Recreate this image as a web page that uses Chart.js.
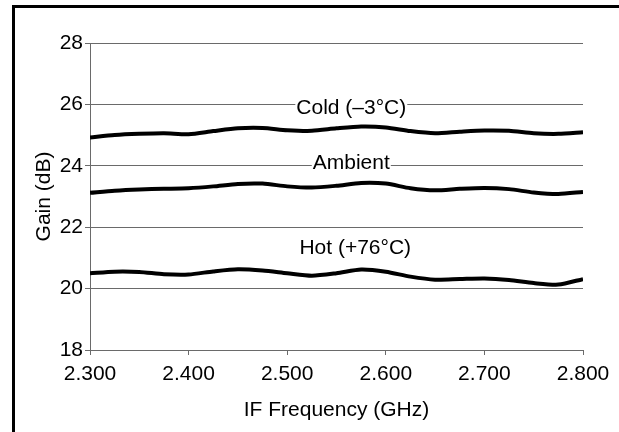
<!DOCTYPE html>
<html>
<head>
<meta charset="utf-8">
<script src="https://cdn.jsdelivr.net/npm/chart.js@4.4.1/dist/chart.umd.min.js"></script>
<style>
html,body{margin:0;padding:0;background:#fff;}
#wrap{position:relative;width:619px;height:432px;}
</style>
</head>
<body>
<div id="wrap"><canvas id="c" width="619" height="432"></canvas></div>
<script>
const frequencies = [2.300,2.325,2.350,2.375,2.400,2.425,2.450,2.475,2.500,2.525,2.550,2.575,2.600,2.625,2.650,2.675,2.700,2.725,2.750,2.775,2.800];
const coldGain = [24.92,25.00,25.04,25.06,25.03,25.13,25.22,25.23,25.16,25.14,25.22,25.28,25.25,25.13,25.06,25.11,25.15,25.14,25.06,25.04,25.09];
const ambientGain = [23.12,23.19,23.23,23.25,23.27,23.33,23.41,23.42,23.33,23.29,23.35,23.44,23.42,23.27,23.20,23.25,23.28,23.24,23.13,23.08,23.15];
const hotGain = [20.50,20.55,20.54,20.47,20.46,20.56,20.63,20.59,20.50,20.42,20.50,20.62,20.55,20.39,20.29,20.31,20.33,20.28,20.18,20.13,20.31];
const yTicks = [18,20,22,24,26,28];
const seriesLabels = ["Cold (\u20133\u00b0C)", "Ambient", "Hot (+76\u00b0C)"];
const labelAnchors = [[2.565,25.88],[2.565,24.09],[2.569,21.32]];

const FONT = "'Liberation Sans', Arial, sans-serif";
const GRID = '#6a6a6a';

function pts(arr){ return frequencies.map((f,i)=>({x:f,y:arr[i]})); }

const frame = {
  id:'frame',
  afterDraw(chart){
    const ctx = chart.ctx;
    ctx.save();
    ctx.fillStyle = '#000';
    ctx.fillRect(12,5,3,427);
    ctx.fillRect(12,5,607,3);
    ctx.restore();
  }
};

const seriesText = {
  id:'seriesText',
  afterDatasetsDraw(chart){
    const ctx = chart.ctx, xs = chart.scales.x, ys = chart.scales.y;
    ctx.save();
    ctx.font = "21px " + FONT;
    ctx.textAlign = 'center';
    ctx.textBaseline = 'middle';
    seriesLabels.forEach((t,i)=>{
      const px = xs.getPixelForValue(labelAnchors[i][0]);
      const py = ys.getPixelForValue(labelAnchors[i][1]);
      const w = ctx.measureText(t).width;
      ctx.fillStyle = '#fff';
      ctx.fillRect(px - w/2 - 1, py - 11, w + 2, 22);
      ctx.fillStyle = '#000';
      ctx.fillText(t, px, py);
    });
    ctx.restore();
  }
};

const ds = (d)=>({data:pts(d), borderColor:'#000', borderWidth:4, pointRadius:0, tension:0.25, fill:false});

new Chart(document.getElementById('c'), {
  type:'line',
  data:{ datasets:[ds(coldGain), ds(ambientGain), ds(hotGain)] },
  options:{
    responsive:false,
    animation:false,
    layout:{padding:{left:0,right:36,top:43,bottom:0}},
    plugins:{legend:{display:false}, tooltip:{enabled:false}},
    scales:{
      x:{
        type:'linear', min:2.3, max:2.8,
        afterBuildTicks(s){ s.ticks = frequencies.filter((f,i)=>i%4===0).map(v=>({value:v})); },
        afterFit(s){ s.height = 82; },
        ticks:{ color:'#000', font:{family:FONT,size:21}, padding:7, maxRotation:0, autoSkip:false,
          callback:(v)=>Number(v).toFixed(3) },
        grid:{ drawOnChartArea:false, drawTicks:true, tickLength:5, color:GRID },
        border:{ color:GRID, width:1 },
        title:{ display:true, text:'IF Frequency (GHz)', color:'#000', font:{family:FONT,size:21}, padding:{top:9,bottom:9} }
      },
      y:{
        min:18, max:28,
        afterBuildTicks(s){ s.ticks = yTicks.map(v=>({value:v})); },
        afterFit(s){ s.width = 90; },
        ticks:{ color:'#000', font:{family:FONT,size:21}, padding:2 },
        grid:{ color:GRID, drawTicks:true, tickLength:5 },
        border:{ color:GRID, width:1 },
        title:{ display:true, text:'Gain (dB)', color:'#000', font:{family:FONT,size:21}, padding:{top:32,bottom:0} }
      }
    }
  },
  plugins:[seriesText, frame]
});
</script>
</body>
</html>
